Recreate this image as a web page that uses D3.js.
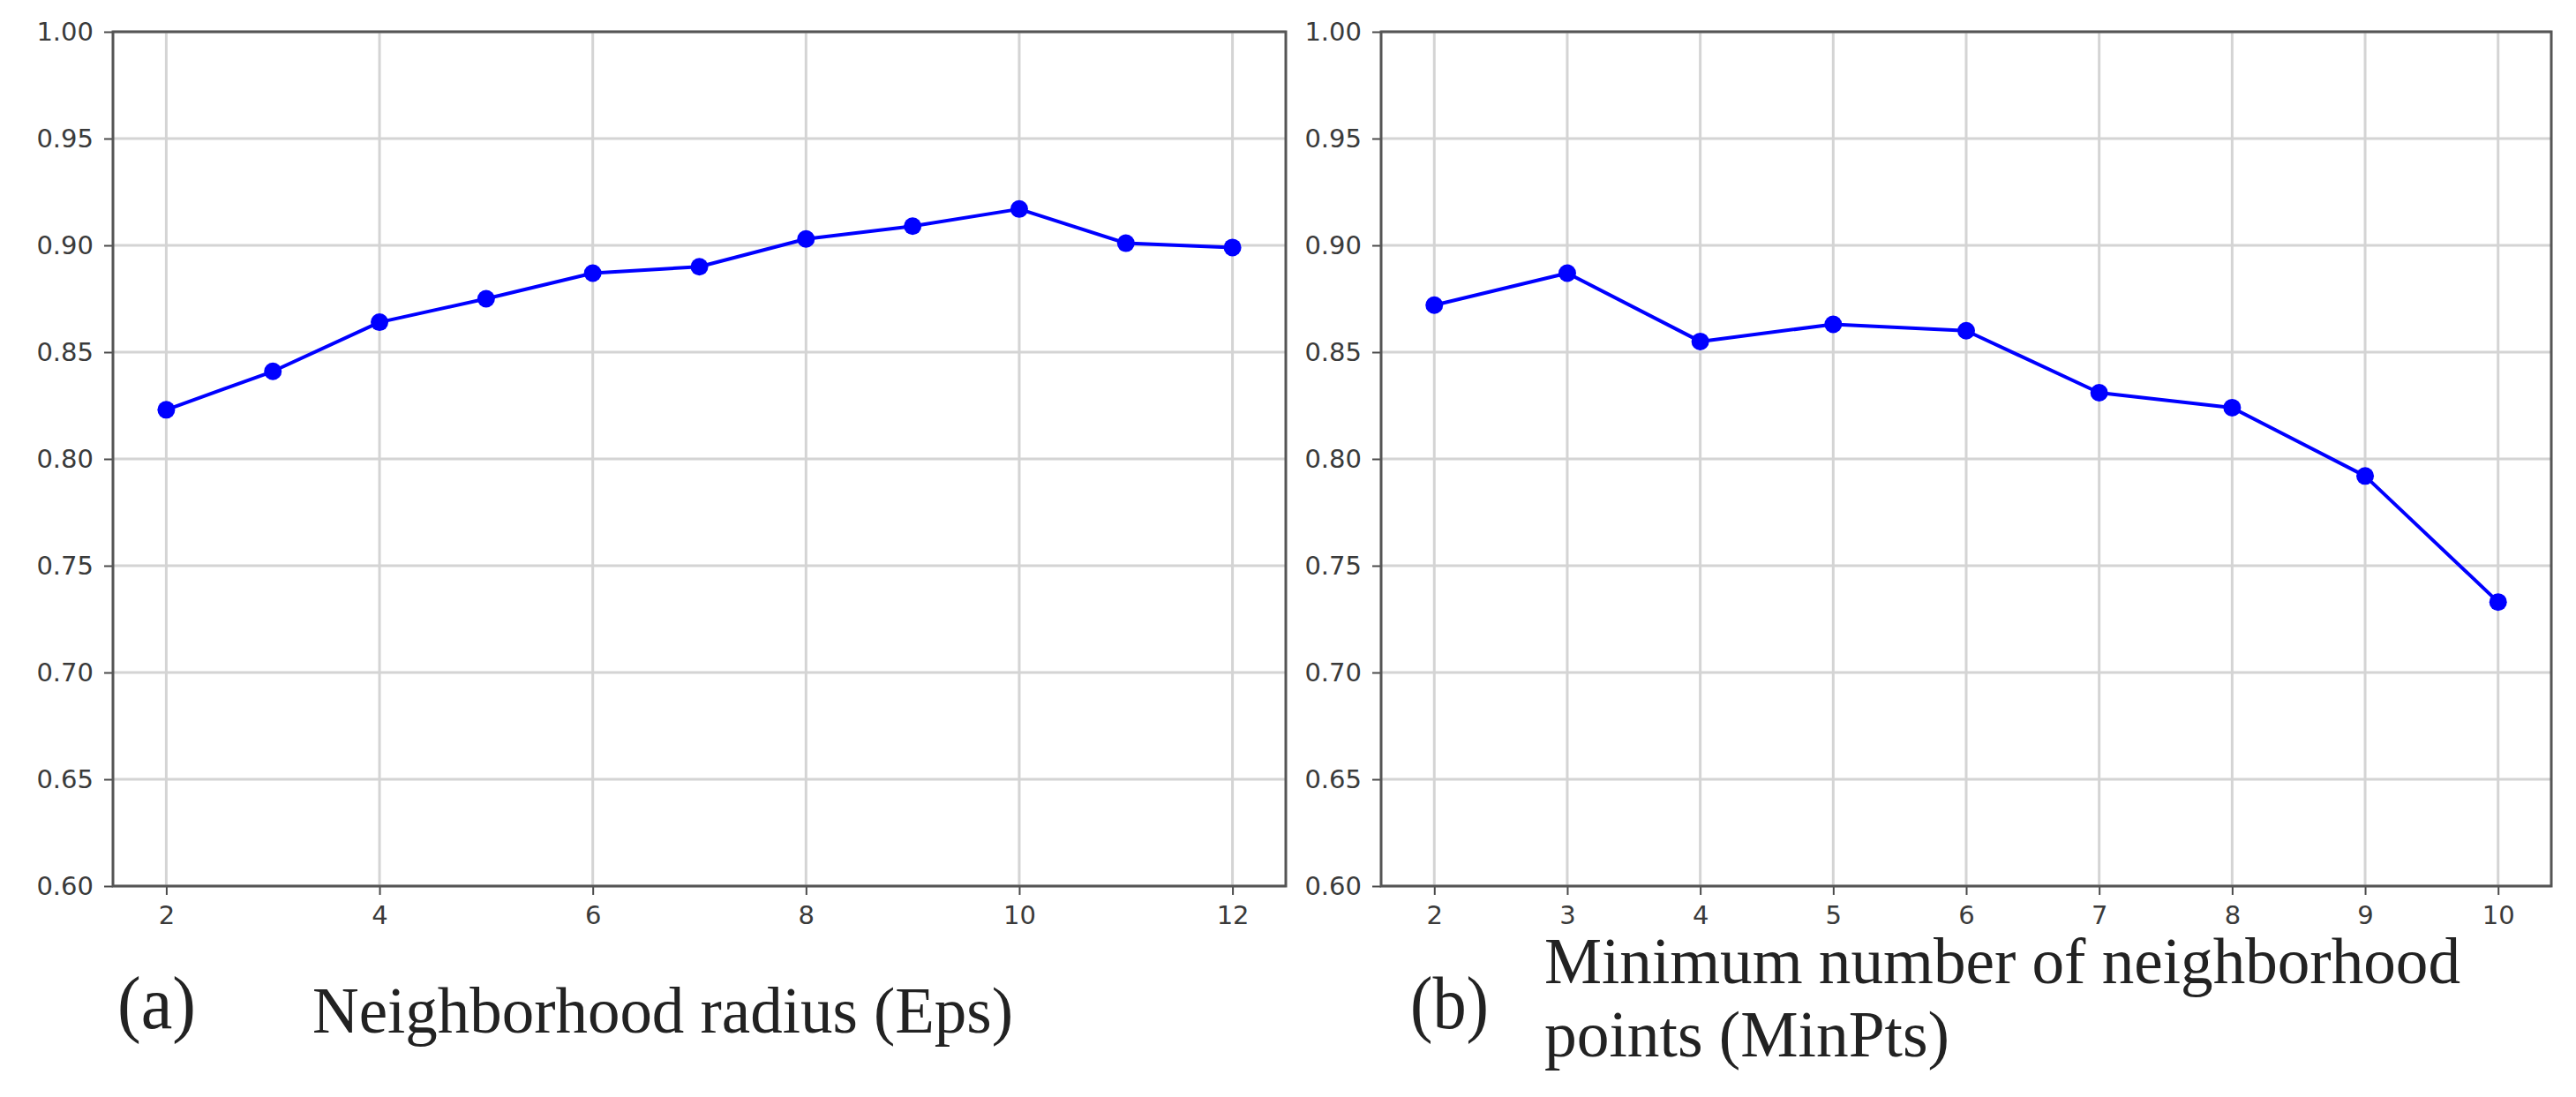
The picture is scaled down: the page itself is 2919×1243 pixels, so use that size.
<!DOCTYPE html>
<html>
<head>
<meta charset="utf-8">
<script src="https://cdn.jsdelivr.net/npm/d3@7"></script>
<style>
  html, body { margin: 0; padding: 0; background: #ffffff; }
  svg { display: block; }
</style>
</head>
<body>
<svg id="chart" width="2919" height="1243"></svg>
<script>
// ---------------- data ----------------
const epsValues = [2, 3, 4, 5, 6, 7, 8, 9, 10, 11, 12];
const epsScores = [0.823, 0.841, 0.864, 0.875, 0.887, 0.890, 0.903, 0.909, 0.917, 0.901, 0.899];

const minPtsValues = [2, 3, 4, 5, 6, 7, 8, 9, 10];
const minPtsScores = [0.872, 0.887, 0.855, 0.863, 0.860, 0.831, 0.824, 0.792, 0.733];

const yTicks = [0.60, 0.65, 0.70, 0.75, 0.80, 0.85, 0.90, 0.95, 1.00];
const epsTicks = [2, 4, 6, 8, 10, 12];
const minPtsTicks = [2, 3, 4, 5, 6, 7, 8, 9, 10];

const panelLabels = ["(a)", "(b)"];
const epsCaption = ["Neighborhood radius (Eps)"];
const minPtsCaption = ["Minimum number of neighborhood", "points (MinPts)"];

// ---------------- layout ----------------
const svg = d3.select("#chart");
const plotTop = 36, plotBottom = 1004;

const panels = [
  { left: 128, right: 1457, xDomain: [1.5, 12.5], xs: epsValues, ys: epsScores, ticks: epsTicks,
    label: panelLabels[0], labelX: 133, labelW: 89, labelY: 1165,
    caption: epsCaption, capX: 354, capW: [794], capY: [1170] },
  { left: 1565, right: 2891, xDomain: [1.6, 10.4], xs: minPtsValues, ys: minPtsScores, ticks: minPtsTicks,
    label: panelLabels[1], labelX: 1598, labelW: 89, labelY: 1165,
    caption: minPtsCaption, capX: 1750, capW: [1038, 459], capY: [1114, 1197] }
];

const y = d3.scaleLinear().domain([0.6, 1.0]).range([plotBottom, plotTop]);

panels.forEach(p => {
  const x = d3.scaleLinear().domain(p.xDomain).range([p.left, p.right]);
  const g = svg.append("g");

  // grid
  g.append("g").selectAll("line").data(p.ticks).join("line")
    .attr("x1", d => x(d)).attr("x2", d => x(d))
    .attr("y1", plotTop).attr("y2", plotBottom)
    .attr("stroke", "#d4d4d4").attr("stroke-width", 3);
  g.append("g").selectAll("line").data(yTicks).join("line")
    .attr("x1", p.left).attr("x2", p.right)
    .attr("y1", d => y(d)).attr("y2", d => y(d))
    .attr("stroke", "#d4d4d4").attr("stroke-width", 3);

  // axes
  const yAxis = g.append("g").attr("transform", `translate(${p.left},0)`)
    .call(d3.axisLeft(y).tickValues(yTicks).tickFormat(d3.format(".2f")).tickSize(10).tickPadding(12));
  const xAxis = g.append("g").attr("transform", `translate(0,${plotBottom})`)
    .call(d3.axisBottom(x).tickValues(p.ticks).tickFormat(d3.format("d")).tickSize(10).tickPadding(12));
  [yAxis, xAxis].forEach(a => {
    a.select(".domain").remove();
    a.selectAll(".tick line").attr("stroke", "#4a4a4a").attr("stroke-width", 2);
    a.selectAll(".tick text")
      .attr("fill", "#3a3a3a")
      .style("font-family", "'DejaVu Sans', sans-serif")
      .style("font-size", "29px");
  });

  // spines
  g.append("rect")
    .attr("x", p.left).attr("y", plotTop)
    .attr("width", p.right - p.left).attr("height", plotBottom - plotTop)
    .attr("fill", "none").attr("stroke", "#555555").attr("stroke-width", 3);

  // series
  const pts = p.xs.map((v, i) => [v, p.ys[i]]);
  g.append("path")
    .datum(pts)
    .attr("d", d3.line().x(d => x(d[0])).y(d => y(d[1])))
    .attr("fill", "none").attr("stroke", "#0000ff").attr("stroke-width", 4)
    .attr("stroke-linejoin", "round");
  g.append("g").selectAll("circle").data(pts).join("circle")
    .attr("cx", d => x(d[0])).attr("cy", d => y(d[1]))
    .attr("r", 10).attr("fill", "#0000ff");

  // panel label
  g.append("text")
    .attr("x", p.labelX).attr("y", p.labelY)
    .attr("textLength", p.labelW).attr("lengthAdjust", "spacingAndGlyphs")
    .style("font-family", "'Liberation Serif', 'Times New Roman', serif")
    .style("font-size", "84px").attr("fill", "#222")
    .text(p.label);

  // caption
  p.caption.forEach((line, i) => {
    g.append("text")
      .attr("x", p.capX).attr("y", p.capY[i])
      .attr("textLength", p.capW[i]).attr("lengthAdjust", "spacingAndGlyphs")
      .style("font-family", "'Liberation Serif', 'Times New Roman', serif")
      .style("font-size", "75px").attr("fill", "#222")
      .text(line);
  });
});
</script>
</body>
</html>
